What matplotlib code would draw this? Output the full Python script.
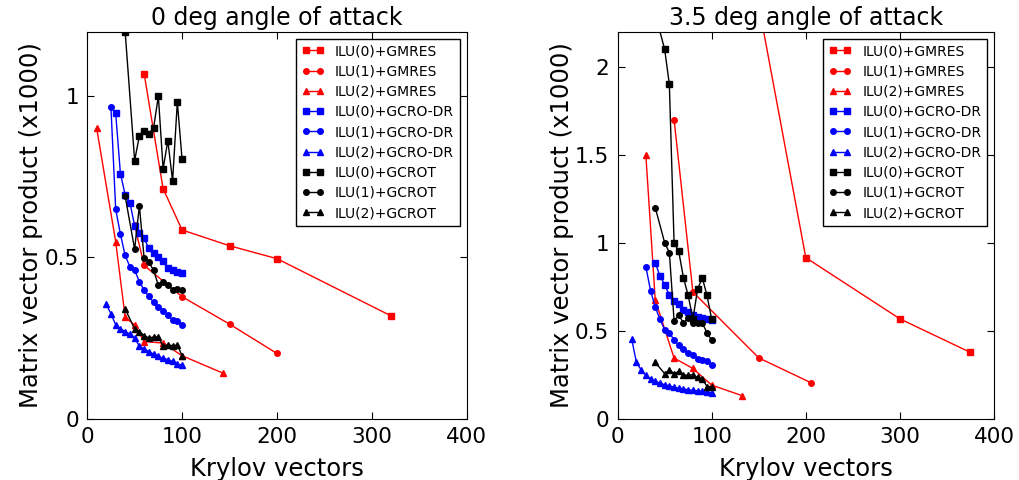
#!/usr/bin/env python3

import matplotlib
matplotlib.use("Agg")
import matplotlib.pyplot as plt

labels = ["ILU(0)+GMRES", "ILU(1)+GMRES", "ILU(2)+GMRES",
          "ILU(0)+GCRO-DR", "ILU(1)+GCRO-DR", "ILU(2)+GCRO-DR",
          "ILU(0)+GCROT", "ILU(1)+GCROT", "ILU(2)+GCROT"]
titles = ["0 deg angle of attack", "3.5 deg angle of attack"]

# GCROT runs share the same Krylov sizes
k_gcrot = [40, 50, 55, 60, 65, 70, 75, 80, 85, 90, 95, 100]

# --- 0 deg ---
a0_x = [
    [60, 80, 100, 150, 200, 320],
    [50, 60, 100, 150, 200],
    [10, 30, 40, 50, 60, 80, 100, 143],
    [30, 35, 40, 45, 50, 55, 60, 65, 70, 75, 80, 85, 90, 95, 100],
    [25, 30, 35, 40, 45, 50, 55, 60, 65, 70, 75, 80, 85, 90, 95, 100],
    [20, 25, 30, 35, 40, 45, 50, 55, 60, 65, 70, 75, 80, 85, 90, 95, 100],
    k_gcrot, k_gcrot, k_gcrot,
]
a0_y = [
    [1.07, 0.713, 0.585, 0.536, 0.496, 0.319],
    [0.60, 0.475, 0.378, 0.293, 0.202],
    [0.90, 0.549, 0.315, 0.29, 0.239, 0.234, 0.195, 0.141],
    [0.948, 0.76, 0.694, 0.67, 0.598, 0.575, 0.559, 0.528, 0.513, 0.502,
     0.489, 0.468, 0.461, 0.456, 0.453],
    [0.967, 0.65, 0.572, 0.506, 0.471, 0.46, 0.425, 0.398, 0.379, 0.36,
     0.346, 0.334, 0.32, 0.306, 0.303, 0.291],
    [0.355, 0.325, 0.291, 0.278, 0.27, 0.262, 0.25, 0.224, 0.216, 0.208,
     0.20, 0.193, 0.187, 0.183, 0.177, 0.169, 0.166],
    [1.2, 0.80, 0.877, 0.893, 0.884, 0.902, 1.0, 0.775, 0.862, 0.737,
     0.982, 0.804],
    [0.69, 0.525, 0.66, 0.497, 0.485, 0.46, 0.413, 0.423, 0.414, 0.40,
     0.403, 0.398],
    [0.34, 0.278, 0.27, 0.257, 0.25, 0.253, 0.253, 0.224, 0.229, 0.226,
     0.228, 0.195],
]

# --- 3.5 deg ---
a35_x = [
    [150, 200, 300, 375],
    [60, 80, 150, 205],
    [30, 40, 60, 80, 100, 132],
    [40, 45, 50, 55, 60, 65, 70, 75, 80, 85, 90, 95, 100],
    [30, 35, 40, 45, 50, 55, 60, 65, 70, 75, 80, 85, 90, 95, 100],
    [15, 20, 25, 30, 35, 40, 45, 50, 55, 60, 65, 70, 75, 80, 85, 90, 95, 100],
    k_gcrot, k_gcrot, k_gcrot,
]
a35_y = [
    [2.35, 0.915, 0.567, 0.376],
    [1.70, 0.72, 0.345, 0.205],
    [1.50, 0.675, 0.344, 0.285, 0.19, 0.131],
    [0.887, 0.811, 0.762, 0.703, 0.671, 0.652, 0.618, 0.605, 0.588, 0.58,
     0.571, 0.565, 0.561],
    [0.864, 0.728, 0.634, 0.565, 0.505, 0.486, 0.448, 0.416, 0.395, 0.372,
     0.362, 0.338, 0.334, 0.325, 0.306],
    [0.452, 0.319, 0.277, 0.245, 0.226, 0.211, 0.202, 0.192, 0.186, 0.179,
     0.173, 0.168, 0.164, 0.16, 0.158, 0.154, 0.15, 0.148],
    [2.3, 2.10, 1.90, 1.0, 0.95, 0.80, 0.70, 0.565, 0.736, 0.80, 0.70, 0.565],
    [1.20, 1.0, 0.944, 0.556, 0.59, 0.542, 0.571, 0.542, 0.546, 0.542,
     0.489, 0.444],
    [0.32, 0.255, 0.277, 0.255, 0.268, 0.249, 0.245, 0.25, 0.234, 0.226,
     0.182, 0.182],
]

colors = ['r', 'r', 'r', 'b', 'b', 'b', 'k', 'k', 'k']
markers = ['s', 'o', '^'] * 3
msizes = [4.5, 4, 4] * 3

plt.rcParams['xtick.direction'] = 'in'
plt.rcParams['ytick.direction'] = 'in'
plt.rcParams['xtick.top'] = True
plt.rcParams['ytick.right'] = True
plt.rcParams['xtick.major.size'] = 5
plt.rcParams['ytick.major.size'] = 5

fig = plt.figure(figsize=(10.2, 4.8), dpi=100)
ax1 = fig.add_axes([0.0855, 0.128, 0.372, 0.806])
ax2 = fig.add_axes([0.6055, 0.128, 0.369, 0.806])

sets = [(ax1, a0_x, a0_y, 1.2, [0, 0.5, 1], ['0', '0.5', '1']),
        (ax2, a35_x, a35_y, 2.2, [0, 0.5, 1, 1.5, 2],
         ['0', '0.5', '1', '1.5', '2'])]

for i, (ax, xs, ys, ytop, yt, ytl) in enumerate(sets):
    for j in range(len(labels)):
        ax.plot(xs[j], ys[j], color=colors[j], marker=markers[j],
                ms=msizes[j], mec=colors[j], lw=1, label=labels[j])
    ax.set_xlim(0, 400)
    ax.set_ylim(0, ytop)
    ax.set_xticks([0, 100, 200, 300, 400])
    ax.set_yticks(yt)
    ax.set_yticklabels(ytl)
    ax.tick_params(labelsize=15.5, pad=6)
    ax.set_xlabel("Krylov vectors", fontsize=17.5, labelpad=7)
    ax.set_ylabel("Matrix vector product (x1000)", fontsize=17.5, labelpad=1)
    ax.set_title(titles[i], fontsize=17, pad=5)
    leg = ax.legend(loc='upper right', fontsize=10, numpoints=2,
                    handlelength=1.6, labelspacing=0.45, fancybox=False,
                    framealpha=1, edgecolor='k')
    leg.get_frame().set_linewidth(1)

fig.savefig("out.png")
